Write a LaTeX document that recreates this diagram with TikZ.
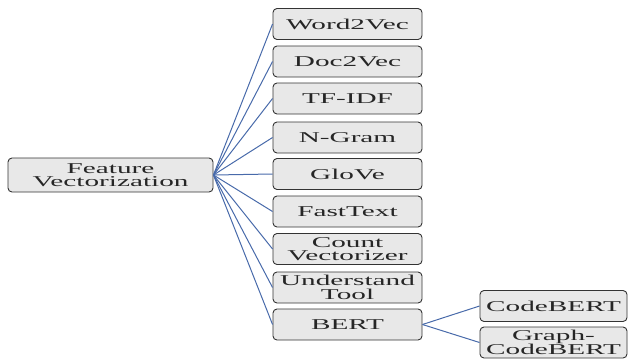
\documentclass[tikz,border=0pt]{standalone}
\usepackage{fontspec}
\setmainfont{Liberation Serif}[FakeStretch=1.95]
\begin{document}
\begin{tikzpicture}[x=1pt,y=-1pt,
  catbox/.style={draw=black!80, line width=0.9pt, fill=black!9, rounded corners=4pt,
    minimum width=149pt, minimum height=31pt, inner sep=0pt, align=center,
    font=\fontsize{15}{13.5}\selectfont, text=black!85},
  link/.style={draw=blue!55!black!75!white, line width=1pt}]
\useasboundingbox (0,0) rectangle (628,362);
\definecolor{linkblue}{RGB}{72,106,170}
\tikzset{link/.style={draw=linkblue, line width=1pt}}

\node[catbox, minimum width=205pt, minimum height=34pt] (fv) at (110.5,175) {Feature\\Vectorization};

\node[catbox] (w2v)  at (347.5,24)    {Word2Vec};
\node[catbox] (d2v)  at (347.5,61.5)  {Doc2Vec};
\node[catbox] (tfidf) at (347.5,98.5) {TF-IDF};
\node[catbox] (ngram) at (347.5,137.5) {N-Gram};
\node[catbox] (glove) at (347.5,174)  {GloVe};
\node[catbox] (fast) at (347.5,211.5) {FastText};
\node[catbox] (count) at (347.5,249)  {Count\\Vectorizer};
\node[catbox] (und)  at (347.5,287.5) {Understand\\Tool};
\node[catbox] (bert) at (347.5,324.5) {BERT};

\node[catbox, minimum width=147pt] (cb)  at (553.5,306)   {CodeBERT};
\node[catbox, minimum width=147pt] (gcb) at (553.5,342.5) {Graph-\\CodeBERT};

\foreach \t in {w2v,d2v,tfidf,ngram,glove,fast,count,und,bert}
  \draw[link] (fv.east) -- (\t.west);
\draw[link] (bert.east) -- (cb.west);
\draw[link] (bert.east) -- (gcb.west);
\end{tikzpicture}
\end{document}
